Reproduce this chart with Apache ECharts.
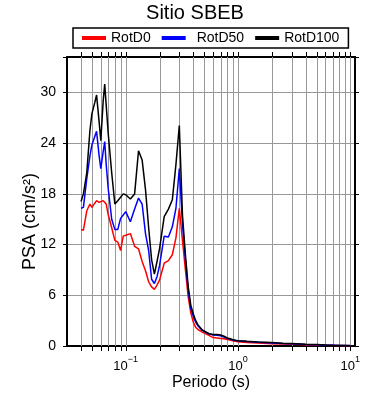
<!DOCTYPE html>
<html>
<head>
<meta charset="utf-8">
<script src="https://cdn.jsdelivr.net/npm/echarts@6/dist/echarts.min.js"></script>
<style>
  html, body { margin: 0; padding: 0; background: #fff; }
  #chart { width: 390px; height: 400px; }
</style>
</head>
<body>
<div id="chart"></div>
<script>
// periodos (s)
const periods = [
  0.040, 0.042, 0.045, 0.048, 0.050, 0.053, 0.055, 0.058, 0.060, 0.063,
  0.065, 0.067, 0.070, 0.075, 0.080, 0.085, 0.090, 0.095, 0.100,
  0.11, 0.12, 0.13, 0.14, 0.15, 0.16, 0.17, 0.18, 0.19, 0.20,
  0.22, 0.24, 0.26, 0.28, 0.30,
  0.32, 0.34, 0.36, 0.38, 0.40,
  0.42, 0.44, 0.46, 0.48, 0.50,
  0.55, 0.60, 0.65, 0.70, 0.75, 0.80, 0.85, 0.90, 0.95, 1.0,
  1.2, 1.5, 2.0, 2.5, 3.0, 4.0, 5.0, 6.0, 7.0, 8.0, 9.0, 10.0
];
// PSA (cm/s2)
const rotD0 = [
  13.8, 13.7, 16.0, 16.8, 16.4, 16.9, 17.2, 17.0, 17.0, 17.2,
  17.4, 16.8, 15.5, 14.0, 12.5, 12.3, 11.3, 13.0, 13.1,
  13.3, 11.8, 11.5, 10.0, 8.9, 7.6, 7.0, 6.7, 7.2, 7.8,
  9.8, 10.1, 10.8, 12.8, 16.3,
  12.5, 9.0, 5.8, 3.9, 2.8,
  2.2, 1.95, 1.8, 1.65, 1.55,
  1.25, 1.0, 0.95, 0.9, 0.85, 0.78, 0.7, 0.62, 0.55, 0.5,
  0.42, 0.35, 0.28, 0.24, 0.2, 0.14, 0.1, 0.08, 0.06, 0.05, 0.04, 0.03
];
const rotD50 = [
  16.3, 16.4, 19.8, 22.5, 23.8, 24.8, 25.4, 22.5, 21.0, 23.0,
  24.2, 21.5, 18.5, 15.0, 13.8, 13.8, 15.1, 15.5, 15.9,
  14.7, 16.2, 17.5, 16.8, 13.3, 11.3, 7.9, 7.4, 8.2, 9.5,
  13.0, 12.9, 14.1, 16.3, 21.0,
  14.5, 10.2, 6.6, 4.4, 3.5,
  2.8, 2.4, 2.1, 1.85, 1.7,
  1.45, 1.3, 1.28, 1.2, 1.05, 0.9, 0.8, 0.72, 0.66, 0.62,
  0.52, 0.45, 0.36, 0.30, 0.26, 0.19, 0.14, 0.10, 0.08, 0.06, 0.05, 0.04
];
const rotD100 = [
  17.1, 18.0, 20.5, 25.5, 27.5, 28.8, 29.7, 26.5, 24.3, 29.0,
  31.0, 28.5, 25.0, 20.5, 16.8, 17.2, 17.6, 18.0, 17.9,
  17.4, 18.0, 23.1, 22.0, 18.5, 14.0, 10.2, 8.5, 10.0, 11.5,
  15.3, 16.2, 17.3, 21.5, 26.1,
  15.5, 10.8, 7.0, 4.8, 3.8,
  3.0, 2.5, 2.2, 1.9, 1.75,
  1.45, 1.35, 1.35, 1.3, 1.15, 0.95, 0.85, 0.75, 0.68, 0.63,
  0.56, 0.48, 0.40, 0.34, 0.30, 0.22, 0.17, 0.12, 0.09, 0.07, 0.06, 0.05
];
const seriesNames = ['RotD0', 'RotD50', 'RotD100'];
const seriesColors = ['#ff0000', '#0000ff', '#000000'];
// lineas de la grilla log (1..9 x decada)
const xGridValues = [
  0.04, 0.05, 0.06, 0.07, 0.08, 0.09,
  0.1, 0.2, 0.3, 0.4, 0.5, 0.6, 0.7, 0.8, 0.9,
  1, 2, 3, 4, 5, 6, 7, 8, 9, 10
];
const X_MIN = 0.03, X_MAX = 11;
const Y_MAX = 34.2;

const font = 'Liberation Sans, Arial, Helvetica, sans-serif';
const chart = echarts.init(document.getElementById('chart'));

const toPairs = vals => periods.map((p, i) => [p, vals[i]]);

// 10^n con superindice
function powLabel(v) {
  const e = Math.round(Math.log10(v));
  if (Math.abs(v - Math.pow(10, e)) > 1e-6 * v) return '';
  return '{b|10}{s|' + (e < 0 ? '\u2212' + (-e) : e) + '}';
}

const frameLine = { show: true, onZero: false, lineStyle: { color: '#000', width: 2 } };

const option = {
  animation: false,
  textStyle: { fontFamily: font },
  title: {
    text: 'Sitio SBEB',
    left: 'center',
    top: 3,
    padding: [0, 0, 0, 32],
    textStyle: { fontSize: 20, fontWeight: 'normal', color: '#000', fontFamily: font }
  },
  legend: {
    data: [
      { name: 'RotD0' },
      { name: 'RotD50', textStyle: { padding: [0, 0, 0, 6] } },
      { name: 'RotD100' }
    ],
    left: 73,
    top: 28,
    padding: [3, 9],
    borderColor: '#000',
    borderWidth: 1.5,
    icon: 'rect',
    itemWidth: 24,
    itemHeight: 4,
    itemGap: 11,
    textStyle: { fontSize: 14, color: '#000', fontFamily: font }
  },
  grid: { left: 67, right: 35, top: 57, bottom: 54 },
  xAxis: [{
    type: 'log', logBase: 10, min: X_MIN, max: X_MAX, position: 'bottom',
    name: 'Periodo (s)', nameLocation: 'middle', nameGap: 29, nameMoveOverlap: false,
    nameTextStyle: { fontSize: 16, color: '#000', fontFamily: font },
    axisLine: frameLine,
    axisTick: { show: false },
    splitLine: { show: false },
    axisLabel: {
      margin: 9, color: '#000', formatter: powLabel,
      rich: {
        b: { fontSize: 13, lineHeight: 18, verticalAlign: 'bottom', color: '#000', fontFamily: font },
        s: { fontSize: 9, lineHeight: 18, verticalAlign: 'top', color: '#000', fontFamily: font }
      }
    }
  }, {
    type: 'log', logBase: 10, min: X_MIN, max: X_MAX, position: 'top',
    axisLine: frameLine, axisTick: { show: false }, axisLabel: { show: false }, splitLine: { show: false }
  }],
  yAxis: [{
    type: 'value', min: 0, max: Y_MAX, interval: 6, position: 'left',
    name: 'PSA (cm/s\u00b2)', nameLocation: 'middle', nameGap: 28, nameMoveOverlap: false,
    nameTextStyle: { fontSize: 18, color: '#000', fontFamily: font, padding: [0, 40, 0, 0] },
    axisLine: frameLine,
    axisTick: { show: true, length: 4, lineStyle: { color: '#000', width: 1 } },
    axisLabel: {
      margin: 11, fontSize: 14, color: '#000', fontFamily: font,
      formatter: v => (v % 6 === 0 ? String(v) : '')
    },
    splitLine: { show: true, lineStyle: { color: '#999', width: 1 } }
  }, {
    type: 'value', min: 0, max: Y_MAX, interval: 6, position: 'right',
    axisLine: frameLine,
    axisTick: { show: true, length: 4, lineStyle: { color: '#000', width: 1 } },
    axisLabel: { show: false }, splitLine: { show: false }
  }],
  series: [
    {
      // grilla vertical + marcas en los ejes inferior y superior
      type: 'custom',
      silent: true,
      clip: false,
      z: 1,
      data: xGridValues,
      renderItem: (params, api) => {
        const v = api.value(0);
        const b = api.coord([v, 0]);
        const t = api.coord([v, Y_MAX]);
        const x = Math.round(b[0]) + 0.5;
        return {
          type: 'group',
          children: [
            { type: 'line', shape: { x1: x, y1: b[1], x2: x, y2: t[1] }, style: { stroke: '#999', lineWidth: 1 } },
            { type: 'line', shape: { x1: x, y1: b[1] + 1, x2: x, y2: b[1] + 5 }, style: { stroke: '#000', lineWidth: 1 } },
            { type: 'line', shape: { x1: x, y1: t[1] - 1, x2: x, y2: t[1] - 5 }, style: { stroke: '#000', lineWidth: 1 } }
          ]
        };
      }
    },
    ...seriesNames.map((name, i) => ({
      name: name,
      type: 'line',
      data: toPairs([rotD0, rotD50, rotD100][i]),
      showSymbol: false,
      symbol: 'none',
      z: 3 + i,
      lineStyle: { color: seriesColors[i], width: 1.5 },
      itemStyle: { color: seriesColors[i] }
    }))
  ]
};

chart.setOption(option);
</script>
</body>
</html>
